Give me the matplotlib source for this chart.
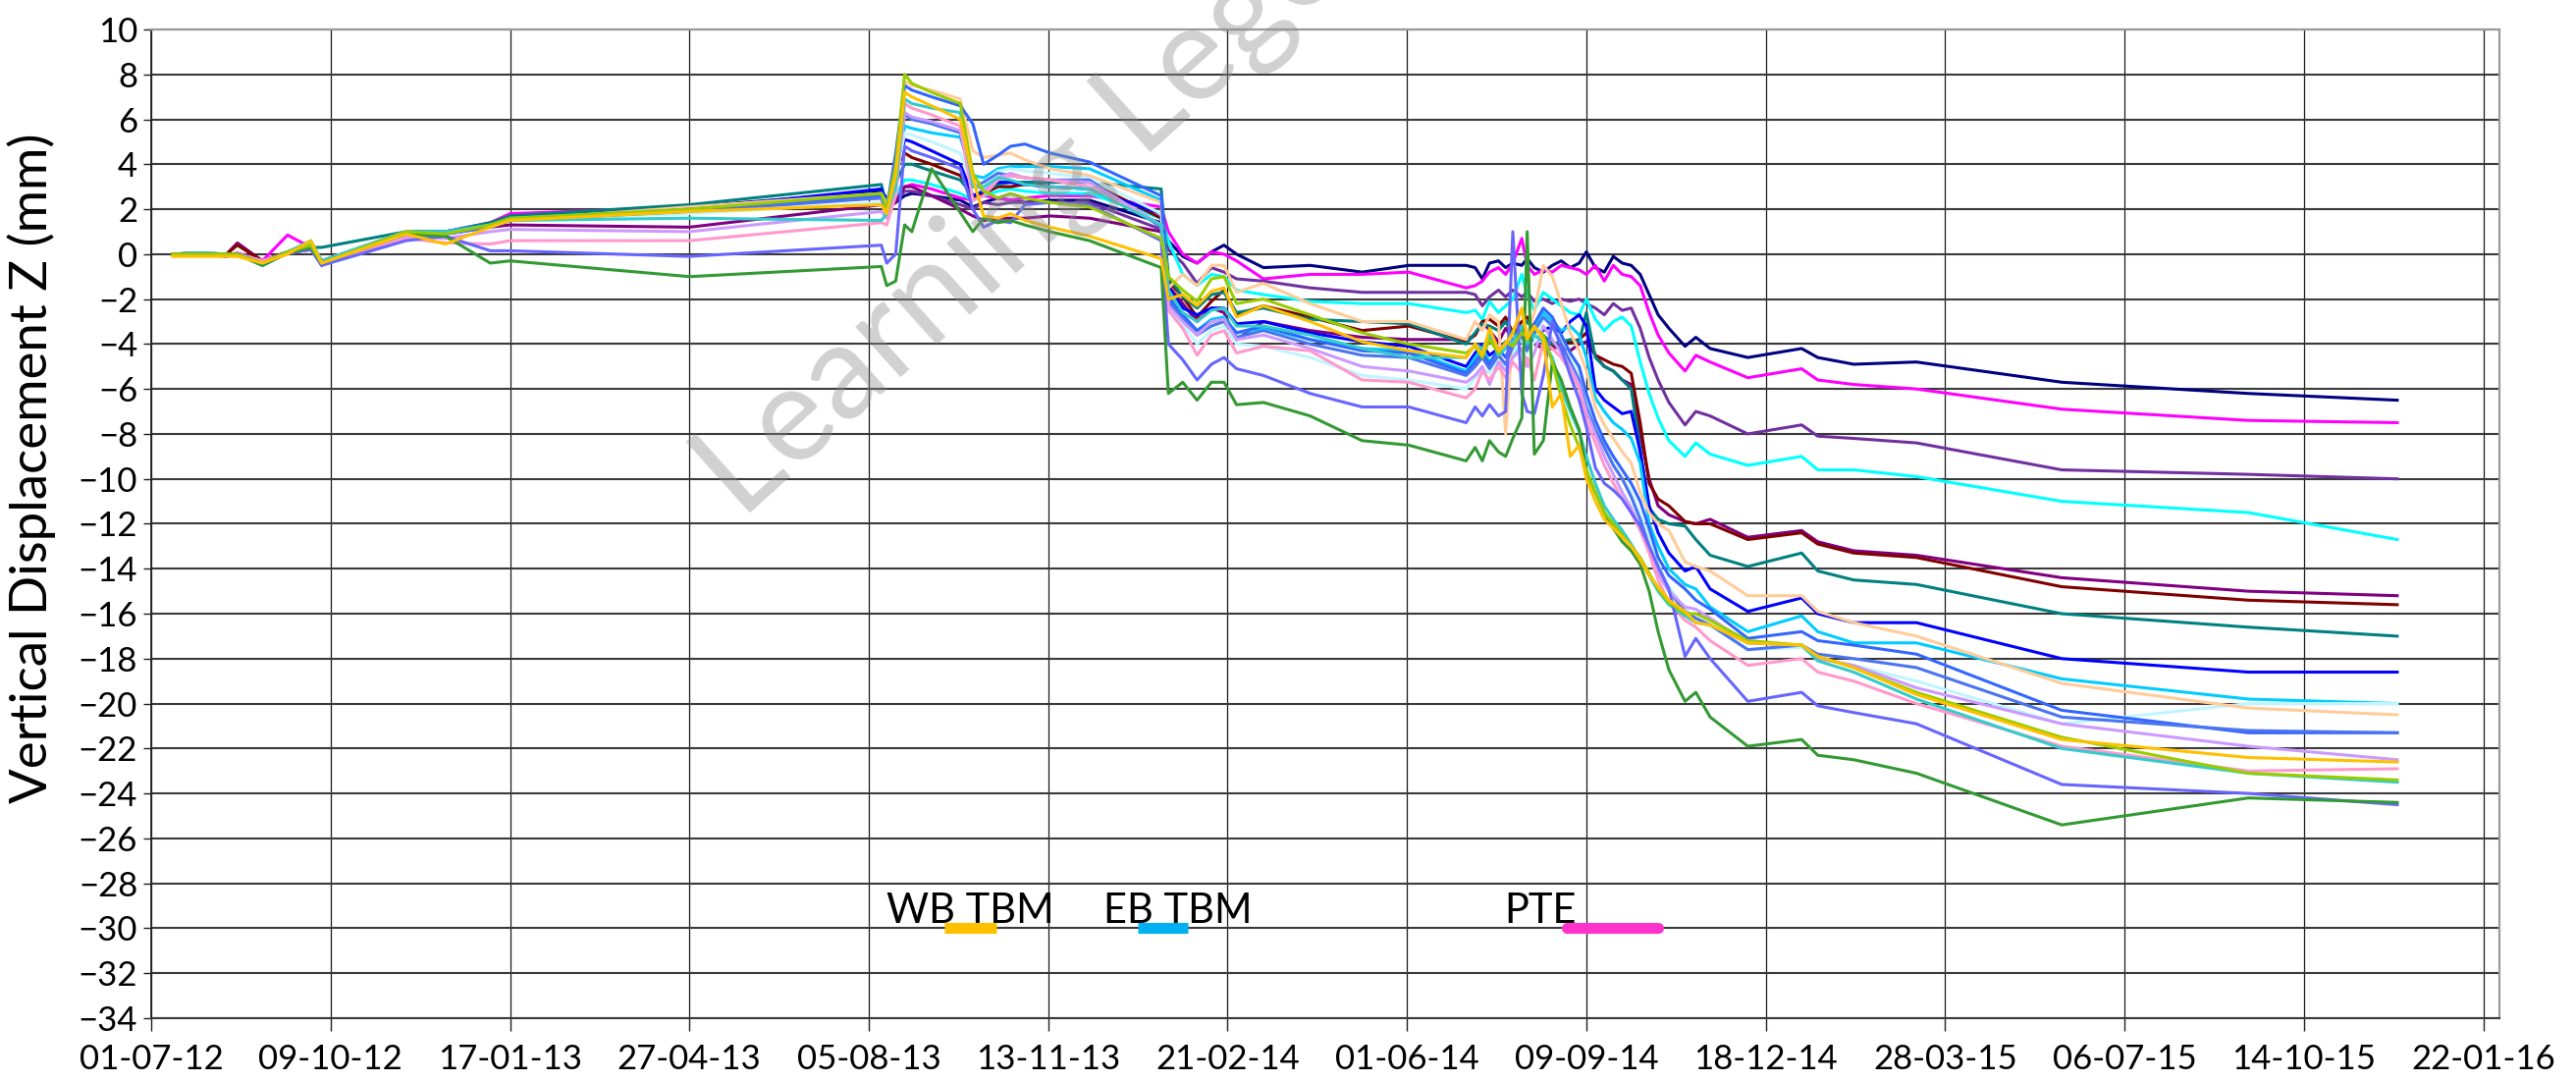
import numpy as np
import pandas as pd
import matplotlib
matplotlib.use("Agg")
import matplotlib.pyplot as plt
import matplotlib.dates as mdates

plt.rcParams['font.family'] = ['Lato', 'DejaVu Sans']

# survey dates (common to all points)
dates = pd.to_datetime([
    '2012-07-13', '2012-07-27', '2012-08-12', '2012-08-18', '2012-09-01', '2012-09-15', '2012-09-28',
    '2012-10-04', '2012-11-20', '2012-12-12', '2013-01-06', '2013-01-17', '2013-04-27', '2013-08-12',
    '2013-08-15', '2013-08-20', '2013-08-25', '2013-08-29', '2013-09-09', '2013-09-25', '2013-10-02',
    '2013-10-08', '2013-10-16', '2013-10-23', '2013-10-31', '2013-11-14', '2013-12-06',
    '2014-01-15',
    '2014-01-19', '2014-01-27', '2014-02-04', '2014-02-12', '2014-02-19', '2014-02-26', '2014-03-13',
    '2014-04-08', '2014-05-07', '2014-06-02',
    '2014-07-04', '2014-07-09', '2014-07-13', '2014-07-17', '2014-07-22', '2014-07-26', '2014-07-30',
    '2014-08-04', '2014-08-07', '2014-08-11', '2014-08-16', '2014-08-21', '2014-08-26', '2014-08-31',
    '2014-09-05', '2014-09-09', '2014-09-14', '2014-09-19', '2014-09-24', '2014-09-29', '2014-10-04',
    '2014-10-09', '2014-10-14', '2014-10-19', '2014-10-25',
    '2014-11-03', '2014-11-09', '2014-11-17', '2014-12-08', '2015-01-07', '2015-01-16', '2015-02-05',
    '2015-03-12', '2015-06-01', '2015-09-13', '2015-12-05'])

navy = [0, 0.05, 0, 0, -0.3, 0.1, 0.3, -0.3, 1.0, 0.9, 1.3, 1.6, 2.1, 2.8,
        2.5, 2.3, 2.6, 2.7, 2.6, 2.4, 2.1, 2.3, 2.5, 2.4, 2.3, 2.4, 2.4,
        1.4,
        0.6, -0.1, -0.4, 0.1, 0.4, 0.0, -0.6, -0.5, -0.8, -0.5,
        -0.5, -0.6, -1.1, -0.4, -0.3, -0.6, -0.4, -0.5, -0.2, -0.6, -0.8, -0.5, -0.3, -0.6, -0.4,
        0.1, -0.6, -0.8, -0.1, -0.4, -0.5, -0.9, -1.8, -2.7, -3.3,
        -4.1, -3.7, -4.2, -4.6, -4.2, -4.6, -4.9, -4.8, -5.7, -6.2, -6.5]
magenta = [0, 0, -0.05, 0.05, -0.3, 0.85, 0.3, -0.3, 1.0, 1.0, 1.4, 1.8, 2.1, 2.5,
           2.2, 2.6, 3.0, 3.1, 2.9, 2.5, 2.4, 2.6, 2.5, 2.4, 2.5, 2.6, 2.6,
           2.1,
           1.0, 0.0, -0.4, 0.1, 0.0, -0.3, -1.1, -0.9, -0.9, -0.8,
           -1.5, -1.4, -1.2, -0.8, -0.6, -0.9, -0.4, 0.7, -0.5, -0.9, -0.7, -0.8, -0.5, -0.6, -0.7,
           -0.9, -0.5, -1.2, -0.5, -0.9, -1.0, -1.4, -2.6, -3.6, -4.4,
           -5.2, -4.5, -4.8, -5.5, -5.1, -5.6, -5.8, -6.0, -6.9, -7.4, -7.5]
medpurple = [0, 0, -0.05, 0, -0.4, 0.05, 0.2, -0.4, 0.9, 0.9, 1.3, 1.5, 2.0, 2.6,
             2.4, 2.4, 2.8, 2.8, 2.6, 2.2, 2.0, 2.3, 2.2, 2.3, 2.3, 2.3, 2.3,
             1.1,
             0.2, -0.4, -1.3, -0.6, -0.8, -1.1, -1.2, -1.5, -1.7, -1.7,
             -1.7, -1.8, -2.3, -1.9, -1.6, -1.9, -1.6, -1.9, -1.7, -2.1, -2.0, -2.2, -2.0, -2.1, -2.0,
             -2.2, -2.4, -2.7, -2.2, -2.5, -2.4, -3.3, -4.6, -5.6, -6.6,
             -7.6, -7.0, -7.2, -8.0, -7.6, -8.1, -8.2, -8.4, -9.6, -9.8, -10.0]
cyan = [0, 0.05, 0, 0, -0.5, 0.1, 0.5, -0.3, 1.0, 1.0, 1.3, 1.6, 2.0, 2.6,
        2.3, 2.6, 3.3, 3.3, 3.1, 2.7, 2.4, 2.6, 2.8, 2.9, 2.8, 2.7, 2.7,
        1.6,
        0.6, -0.9, -1.4, -0.9, -1.0, -1.6, -1.8, -2.1, -2.2, -2.2,
        -2.6, -2.5, -2.9, -2.1, -2.6, -2.3, -2.0, -0.9, -1.8, -2.5, -1.7, -2.0, -2.3, -2.6, -2.7,
        -2.0, -2.9, -3.4, -3.0, -2.8, -3.2, -4.8, -6.2, -7.3, -8.3,
        -9.0, -8.4, -8.9, -9.4, -9.0, -9.6, -9.6, -9.9, -11.0, -11.5, -12.7]
purple = [0, 0, 0, 0.5, -0.3, 0.05, 0.3, -0.3, 0.8, 0.9, 1.2, 1.3, 1.2, 2.2,
          2.0, 2.3, 3.0, 3.0, 2.6, 2.0, 1.7, 1.5, 1.6, 1.6, 1.6, 1.7, 1.6,
          1.0,
          -1.4, -2.2, -3.0, -2.4, -2.6, -3.8, -3.0, -3.4, -3.7, -3.8,
          -3.8, -3.6, -3.0, -3.4, -3.9, -3.3, -3.8, -3.5, -3.6, -4.0, -4.2, -4.2, -4.1, -4.3, -4.0,
          -3.9, -4.5, -5.0, -5.2, -5.6, -5.8, -8.0, -10.0, -11.2, -11.6,
          -11.9, -12.0, -11.8, -12.6, -12.3, -12.8, -13.2, -13.4, -14.4, -15.0, -15.2]
maroon = [0, 0, 0, 0.4, -0.3, 0.1, 0.3, -0.3, 0.9, 1.0, 1.3, 1.5, 1.9, 2.6,
          2.0, 3.8, 4.5, 4.3, 4.0, 3.5, 2.5, 2.7, 3.0, 3.0, 3.1, 3.2, 3.2,
          1.6,
          -1.2, -1.9, -2.8, -2.1, -1.6, -2.7, -2.3, -2.8, -3.4, -3.2,
          -3.9, -3.6, -3.0, -2.9, -3.2, -2.8, -3.5, -3.0, -2.8, -3.3, -3.7, -4.1, -4.0, -3.9, -3.8,
          -3.5, -4.5, -4.7, -4.9, -5.0, -5.3, -7.5, -10.2, -10.9, -11.2,
          -11.9, -12.0, -12.0, -12.7, -12.4, -12.9, -13.3, -13.5, -14.8, -15.4, -15.6]
teal = [0, 0.05, 0, 0, -0.4, 0.1, 0.3, 0.3, 1.0, 1.0, 1.4, 1.7, 2.2, 3.1,
        2.1, 3.2, 4.0, 4.0, 3.7, 3.3, 2.6, 2.8, 3.1, 3.2, 3.2, 3.2, 3.2,
        2.9,
        -1.0, -1.9, -2.4, -1.8, -1.7, -2.6, -2.4, -2.9, -3.0, -3.1,
        -4.0, -3.5, -3.1, -3.2, -3.4, -3.0, -3.6, -3.3, -3.0, -3.4, -3.6, -4.0, -3.9, -3.8, -3.9,
        -2.6, -4.6, -5.0, -5.2, -5.6, -6.0, -8.7, -11.3, -11.8, -12.0,
        -12.1, -12.7, -13.4, -13.9, -13.3, -14.1, -14.5, -14.7, -16.0, -16.6, -17.0]
blue = [0, 0, -0.1, 0, -0.5, 0.05, 0.3, -0.5, 1.0, 1.0, 1.3, 1.6, 2.0, 2.9,
        2.2, 3.5, 5.1, 5.0, 4.6, 4.0, 2.6, 2.8, 3.2, 3.2, 3.1, 3.0, 2.9,
        1.8,
        -1.5, -2.4, -2.7, -2.4, -2.4, -3.1, -3.0, -3.5, -3.9, -4.1,
        -5.0, -4.4, -4.0, -4.5, -4.2, -3.9, -4.4, -3.8, -4.1, -3.6, -3.4, -3.2, -3.5, -3.0, -2.7,
        -3.2, -6.0, -6.5, -6.8, -7.1, -7.0, -8.8, -11.2, -12.4, -13.3,
        -14.1, -13.9, -14.9, -15.9, -15.3, -16.0, -16.4, -16.4, -18.0, -18.6, -18.6]
deepsky = [0, 0.05, 0, 0, -0.4, 0.1, 0.4, -0.4, 1.0, 1.0, 1.3, 1.6, 2.0, 2.7,
           2.3, 3.2, 5.7, 5.6, 5.4, 5.2, 3.5, 3.4, 3.8, 3.9, 3.9, 3.9, 3.8,
           2.4,
           -1.8, -2.9, -3.4, -2.9, -2.8, -3.5, -3.3, -3.8, -4.2, -4.3,
           -5.2, -4.6, -4.2, -4.8, -4.3, -4.0, -4.6, -3.6, -3.9, -3.4, -2.6, -3.0, -3.4, -3.2, -3.6,
           -4.6, -6.4, -7.0, -7.5, -7.8, -8.2, -9.3, -12.0, -13.0, -14.0,
           -14.7, -14.9, -15.7, -16.8, -16.1, -16.8, -17.3, -17.3, -18.9, -19.8, -20.0]
peach = [0, 0, 0, 0, -0.3, 0.05, 0.3, -0.3, 1.0, 0.9, 1.3, 1.5, 2.1, 2.7,
         2.2, 4.0, 7.7, 7.5, 7.3, 6.9, 4.6, 4.3, 4.4, 4.5, 4.2, 3.8, 3.5,
         2.3,
         -1.5, -0.9, -1.4, -0.5, -0.5, -1.7, -1.3, -2.2, -3.0, -3.0,
         -3.8, -3.0, -3.4, -2.7, -3.0, -8.0, -3.5, -2.5, -3.6, -2.6, -0.5, -1.0, -2.2, -3.5, -4.3,
         -5.2, -6.8, -7.6, -8.2, -8.8, -9.3, -10.6, -11.5, -12.0, -12.3,
         -13.7, -13.9, -14.1, -15.2, -15.2, -15.9, -16.4, -17.0, -19.1, -20.2, -20.5]
royal = [0, 0.05, 0, 0, -0.4, 0.1, 0.3, -0.4, 0.9, 0.9, 1.2, 1.5, 2.0, 2.6,
         2.0, 4.5, 7.5, 7.3, 7.0, 6.6, 5.8, 4.0, 4.4, 4.8, 4.9, 4.5, 4.1,
         2.6,
         -1.9, -2.7, -3.4, -3.0, -2.9, -3.5, -3.2, -3.8, -4.3, -4.4,
         -5.3, -4.8, -4.4, -4.9, -4.2, -4.6, -3.8, -3.4, -4.0, -3.1, -2.4, -2.8, -3.6, -4.4, -5.0,
         -6.2, -7.4, -8.3, -9.0, -9.6, -10.2, -11.0, -12.2, -13.5, -14.3,
         -14.9, -15.4, -15.8, -17.1, -16.8, -17.2, -17.4, -17.8, -20.3, -21.3, -21.3]
royal2 = [0, 0, -0.05, 0, -0.4, 0.05, 0.3, -0.4, 0.9, 0.9, 1.2, 1.5, 1.9, 2.5,
          1.8, 3.6, 6.2, 6.0, 5.8, 5.4, 3.0, 3.2, 3.6, 3.5, 3.4, 3.3, 3.3,
          1.2,
          -2.1, -2.9, -3.6, -3.2, -3.0, -3.7, -3.4, -4.0, -4.5, -4.6,
          -5.4, -5.0, -4.6, -5.1, -4.5, -4.9, -4.1, -3.6, -4.3, -3.4, -2.8, -3.2, -4.0, -4.8, -5.6,
          -6.8, -7.8, -8.6, -9.4, -10.0, -10.8, -11.8, -13.0, -14.2, -15.0,
          -15.9, -16.2, -16.5, -17.6, -17.4, -17.8, -18.0, -18.4, -20.6, -21.2, -21.3]
lavender = [0, 0, 0, 0, -0.3, 0.05, 0.3, -0.4, 0.8, 0.7, 1.0, 1.1, 1.0, 1.9,
            1.6, 3.0, 6.3, 6.1, 5.9, 5.5, 3.2, 2.8, 3.4, 3.6, 3.4, 3.3, 3.2,
            1.3,
            -2.3, -3.0, -3.6, -3.0, -2.9, -3.8, -3.6, -4.2, -5.0, -5.2,
            -5.7, -5.4, -5.0, -5.8, -4.8, -5.2, -4.6, -4.2, -5.0, -4.4, -3.2, -3.8, -4.4, -5.0, -5.8,
            -7.0, -8.0, -9.0, -9.8, -10.6, -11.3, -12.2, -13.0, -14.2, -15.0,
            -15.7, -15.8, -16.2, -17.3, -17.4, -18.0, -18.3, -19.3, -20.9, -21.9, -22.5]
lightcyan = [0, 0.05, 0, 0, -0.4, 0.1, 0.4, -0.3, 1.0, 0.9, 1.2, 1.5, 1.8, 2.3,
             1.9, 3.2, 5.4, 5.3, 5.0, 4.5, 3.0, 3.2, 3.7, 3.8, 3.7, 3.6, 3.4,
             1.8,
             -2.5, -3.1, -4.0, -3.4, -3.2, -4.0, -4.1, -4.6, -5.4, -5.6,
             -6.0, -5.5, -5.1, -5.3, -4.6, -5.0, -4.4, -3.8, -4.4, -3.9, -2.8, -3.3, -3.8, -4.4, -5.2,
             -6.6, -7.6, -8.5, -9.3, -10.0, -10.6, -11.6, -12.6, -13.8, -14.8,
             -15.8, -16.2, -16.5, -17.6, -17.5, -18.0, -18.3, -19.0, -20.9, -20.0, -20.0]
pink = [0, 0, -0.05, 0, -0.3, 0.05, 0.2, -0.4, 0.7, 0.5, 0.45, 0.6, 0.6, 1.4,
        1.3, 2.6, 6.7, 6.5, 6.2, 5.7, 2.4, 2.6, 3.3, 3.5, 3.4, 3.3, 3.0,
        1.3,
        -2.5, -3.3, -4.5, -3.6, -3.4, -4.4, -4.1, -4.3, -5.6, -5.7,
        -6.4, -6.0, -5.2, -5.6, -5.0, -5.5, -4.8, -5.3, -4.6, -5.6, -3.9, -4.2, -4.6, -5.2, -6.0,
        -7.4, -8.4, -9.4, -10.2, -10.9, -11.5, -12.3, -13.3, -14.5, -15.5,
        -16.3, -16.6, -17.2, -18.3, -18.0, -18.6, -19.0, -20.0, -21.9, -23.0, -22.9]
aqua = [0, 0.05, 0, 0, -0.5, 0.1, 0.6, -0.3, 1.0, 1.0, 1.3, 1.5, 1.6, 1.5,
        1.8, 3.0, 6.9, 6.7, 6.5, 6.3, 3.0, 3.0, 3.4, 3.3, 3.1, 3.0, 2.9,
        1.3,
        -1.6, -2.6, -3.0, -2.5, -2.4, -3.2, -3.2, -3.6, -4.2, -4.6,
        -4.6, -4.0, -4.2, -3.6, -4.5, -4.2, -3.9, -3.2, -4.0, -3.6, -3.9, -4.6, -6.0, -7.0, -7.9,
        -9.0, -10.2, -11.2, -11.8, -12.3, -12.9, -13.6, -14.3, -15.0, -15.6,
        -16.1, -16.4, -16.5, -17.3, -17.4, -18.1, -18.6, -19.8, -22.0, -23.1, -23.5]
yellowgreen = [0, 0, 0, 0, -0.4, 0.1, 0.4, -0.4, 1.0, 0.9, 1.3, 1.6, 2.0, 2.7,
               2.0, 4.0, 8.0, 7.6, 7.2, 6.7, 3.6, 2.8, 2.5, 2.7, 2.5, 2.3, 2.1,
               0.7,
               -1.0, -1.6, -2.1, -1.1, -1.0, -2.2, -2.0, -2.7, -3.5, -4.0,
               -4.4, -4.1, -4.6, -3.8, -4.4, -3.9, -4.1, -3.5, -3.7, -3.3, -3.6, -4.8, -6.4, -7.6, -8.6,
               -9.6, -10.6, -11.5, -12.0, -12.5, -13.0, -13.5, -14.2, -14.9, -15.5,
               -16.0, -16.0, -16.3, -17.2, -17.4, -17.9, -18.4, -19.5, -21.5, -23.1, -23.4]
gold = [-0.1, -0.1, -0.1, -0.1, -0.4, 0.0, 0.6, -0.4, 0.9, 0.45, 1.2, 1.5, 1.9, 2.2,
        1.8, 3.5, 7.2, 7.0, 6.6, 6.0, 3.4, 1.7, 1.6, 1.8, 1.5, 1.2, 0.8,
        -0.2,
        -2.0, -1.8, -2.3, -1.65, -1.5, -2.8, -2.3, -3.0, -3.9, -4.3,
        -4.6, -4.0, -4.5, -3.3, -4.3, -4.0, -3.5, -2.4, -3.8, -3.2, -3.8, -6.8, -6.2, -9.0, -8.5,
        -10.0, -11.0, -11.8, -12.2, -12.6, -13.0, -13.6, -14.3, -14.8, -15.4,
        -15.9, -16.4, -16.5, -17.3, -17.4, -17.9, -18.4, -19.6, -21.6, -22.4, -22.6]
slateblue = [0, 0, -0.05, 0, -0.4, 0.05, 0.2, -0.5, 0.6, 0.8, 0.15, 0.15, -0.1, 0.4,
             -0.4, 0.0, 4.8, 4.6, 4.3, 3.8, 2.0, 1.2, 1.5, 1.4, 2.2, 2.3, 2.2,
             0.6,
             -4.0, -4.7, -5.6, -4.9, -4.6, -5.1, -5.4, -6.2, -6.8, -6.8,
             -7.5, -6.8, -7.2, -6.7, -7.2, -7.0, 1.0, -6.2, -7.0, -7.1, -5.4, -3.0, -4.2, -5.4, -6.5,
             -7.7, -9.5, -10.2, -10.5, -10.9, -11.5, -12.1, -13.0, -13.9, -14.9,
             -17.9, -17.1, -18.0, -19.9, -19.5, -20.1, -20.4, -20.9, -23.6, -24.0, -24.5]
green = [0, 0, 0, 0, -0.5, 0.05, 0.3, -0.4, 0.9, 0.8, -0.4, -0.3, -1.0, -0.55,
         -1.4, -1.2, 1.3, 1.0, 3.8, 1.85, 1.0, 1.6, 1.4, 1.5, 1.3, 1.0, 0.6,
         -0.6,
         -6.2, -5.7, -6.5, -5.7, -5.7, -6.7, -6.6, -7.2, -8.3, -8.5,
         -9.2, -8.6, -9.2, -8.3, -8.8, -9.0, -8.2, -7.3, 1.0, -8.9, -8.3, -4.8, -5.6, -6.8, -7.8,
         -9.7, -10.6, -11.5, -12.2, -12.8, -13.2, -13.8, -15.0, -16.8, -18.5,
         -19.9, -19.5, -20.6, -21.9, -21.6, -22.3, -22.5, -23.1, -25.4, -24.2, -24.4]

series = [
    (navy, '#000080'), (magenta, '#FF00FF'), (medpurple, '#7030A0'), (cyan, '#00FFFF'),
    (purple, '#800080'), (maroon, '#800000'), (teal, '#008080'), (blue, '#0000FF'),
    (deepsky, '#00CCFF'), (lightcyan, '#BFF5FF'), (peach, '#FFCC99'), (royal, '#3366FF'),
    (royal2, '#4A74F0'), (lavender, '#CC99FF'), (pink, '#FF99CC'), (aqua, '#33CCCC'),
    (slateblue, '#6666FF'), (green, '#339933'), (yellowgreen, '#99CC00'), (gold, '#FFC000'),
]

# construction periods shown as bars on the -30 line
events = ['WB TBM', 'EB TBM', 'PTE']
event_text_at = pd.to_datetime(['2013-08-15', '2013-12-14', '2014-07-25'])
event_start = pd.to_datetime(['2013-09-16', '2014-01-02', '2014-08-29'])
event_end = pd.to_datetime(['2013-10-15', '2014-01-30', '2014-10-19'])
event_colors = ['#FFC000', '#00B0F0', '#FF33CC']

tick_dates = pd.date_range('2012-07-01', periods=14, freq='100D')

fig = plt.figure(figsize=(26.24, 11.02), dpi=100)
ax = fig.add_axes([0.0587, 0.059, 0.9116, 0.9138])

for vals, col in series:
    ax.plot(dates, vals, color=col, lw=2.2, solid_joinstyle='round')

for i in range(len(events)):
    cap = 'round' if events[i] == 'PTE' else 'butt'
    ax.plot([event_start[i], event_end[i]], [-30, -30], color=event_colors[i],
            lw=8, solid_capstyle=cap, zorder=5)
    ax.text(event_text_at[i], -29.75, events[i], fontsize=30, ha='left', va='baseline')

ax.set_xlim(pd.Timestamp('2012-07-01'), pd.Timestamp('2016-01-31'))
ax.set_ylim(-34, 10)
ax.set_yticks(np.arange(-34, 11, 2))
ax.set_xticks(tick_dates)
ax.xaxis.set_major_formatter(mdates.DateFormatter('%d-%m-%y'))

ax.grid(axis='y', color='#3a3a3a', lw=1.5)
ax.grid(axis='x', color='#1a1a1a', lw=0.9)
ax.set_axisbelow(True)

for s in ['top', 'right']:
    ax.spines[s].set_color('#9a9a9a')
    ax.spines[s].set_linewidth(1.6)
ax.spines['left'].set_color('#202020')
ax.spines['left'].set_linewidth(1.2)
ax.spines['bottom'].set_color('#3a3a3a')
ax.spines['bottom'].set_linewidth(1.5)

ax.tick_params(axis='x', length=9, width=1.0, color='#202020', labelsize=25, pad=10)
ax.tick_params(axis='y', length=6, width=1.0, color='#202020', labelsize=25, pad=4)
ax.set_ylabel('Vertical Displacement Z (mm)', fontsize=38)
ax.yaxis.set_label_coords(-0.0405, 0.556)

# watermark (cut by the top edge, as in the source image)
fig.text(0.2877, 0.519, 'Learning Legend', fontsize=98, color='#8c8c8c', alpha=0.4,
         rotation=42, rotation_mode='anchor', ha='left', va='baseline', zorder=10)

fig.savefig('out.png', dpi=100)
